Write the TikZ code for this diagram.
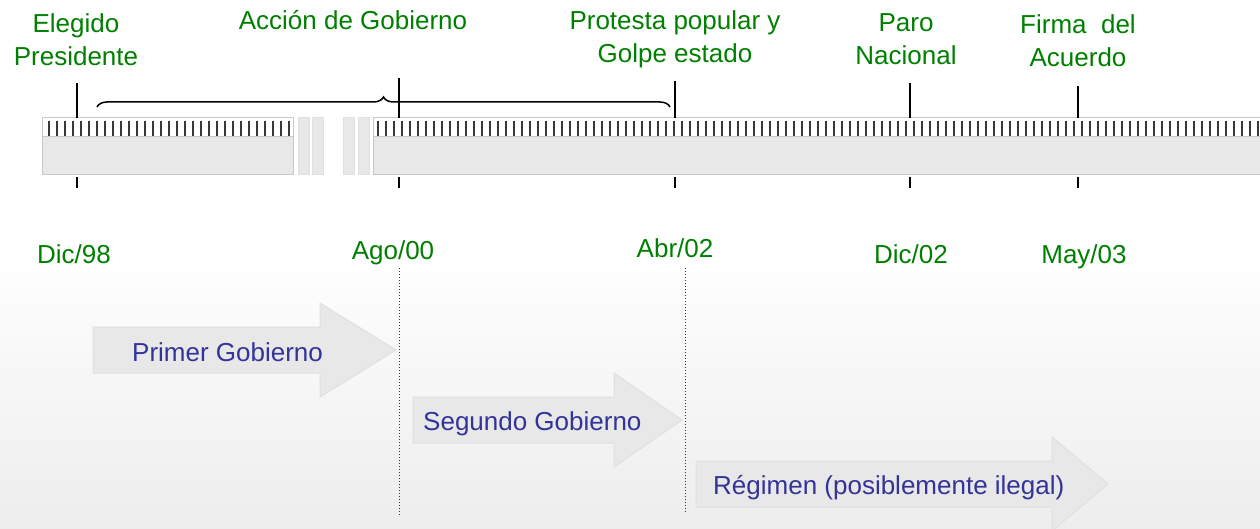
\documentclass[tikz,border=0pt]{standalone}
\usepackage{fontspec}
\setmainfont{Liberation Sans}
\usetikzlibrary{decorations.pathreplacing}

\definecolor{labelgreen}{RGB}{0,128,0}
\definecolor{periodblue}{RGB}{51,51,153}
\definecolor{barfill}{RGB}{232,232,232}
\definecolor{barline}{RGB}{200,200,200}

\begin{document}
\begin{tikzpicture}[
            x=1pt, y=-1pt,
            event/.style = {
                text=labelgreen,
                font=\fontsize{26}{33}\selectfont,
                align=center,
                anchor=base,
                inner sep=0pt
            },
            date/.style = {
                text=labelgreen,
                font=\fontsize{26}{31}\selectfont,
                anchor=base,
                inner sep=0pt
            },
            period/.style = {
                text=periodblue,
                font=\fontsize{26}{31}\selectfont,
                anchor=base west,
                inner sep=0pt
            },
            bar/.style = {fill=barfill, draw=barline, line width=1pt},
            gapbar/.style = {fill=barfill, draw=black!12, line width=1pt},
            rulertick/.style = {draw=black!78, line width=2.6pt},
            marker/.style = {draw=black, line width=1.3pt},
            periodarrow/.style = {fill=barfill, draw=black!12, line width=1pt},
            guide/.style = {draw=black!80, dotted, line width=1pt}
        ]
            \useasboundingbox (0,0) rectangle (1260,529);
            \shade[top color=white, bottom color=black!7] (0,250) rectangle (1260,529);

            % ruler
            \draw[barline, line width=1pt, fill=white] (42,118) rectangle (293,137);
            \draw[bar] (42,137) rectangle (293,175);
            \foreach \x in {298,312,343,358} {
                \draw[gapbar] (\x,118) rectangle ({\x+11},175);
            }
            \draw[barline, line width=1pt, fill=white] (373,118) rectangle (1264,137);
            \draw[bar] (373,137) rectangle (1264,175);
            \foreach \x in {49,57,...,289} {
                \draw[rulertick] (\x,121) -- (\x,136);
            }
            \foreach \x in {378,386,...,1258} {
                \draw[rulertick] (\x,121) -- (\x,136);
            }

            % markers
            \foreach \x/\top in {77/83, 399/78, 675/81, 910/83, 1078/86} {
                \draw[marker] (\x,\top) -- (\x,118);
                \draw[marker] (\x,177) -- (\x,188);
            }

            % brace
            \coordinate (bl) at (97,107);
            \coordinate (br) at (670,107);
            \draw[line width=1.5pt, decorate, decoration={brace, amplitude=10pt}] (bl) -- (br);

            % events (base = last line)
            \node[event] (elegido) at (76,66) {Elegido\\Presidente};
            \node[event] (accion) at (353,30) {Acción de Gobierno};
            \node[event] (protesta) at (675,63) {Protesta popular y\\Golpe estado};
            \node[event] (paro) at (906,65) {Paro\\Nacional};
            \node[event] (firma) at (1078,67) {Firma\ \ del\\Acuerdo};

            % dates
            \node[date] (dic98) at (74,263) {Dic/98};
            \node[date] (ago00) at (393,260) {Ago/00};
            \node[date] (abr02) at (675,258) {Abr/02};
            \node[date] (dic02) at (911,264) {Dic/02};
            \node[date] (may03) at (1084,264) {May/03};

            % guides
            \coordinate (g1top) at (399,268);
            \coordinate (g1bot) at (399,515);
            \coordinate (g2top) at (685,268);
            \coordinate (g2bot) at (685,512);
            \draw[guide] (g1top) -- (g1bot);
            \draw[guide] (g2top) -- (g2bot);

            % period arrows
            \foreach \l/\b/\t/\c in {93/320/396/350, 413/614/682/420, 696/1052/1108/484} {
                \draw[periodarrow] (\l,\c-23) -- (\b,\c-23) -- (\b,\c-47) -- (\t,\c)
                    -- (\b,\c+47) -- (\b,\c+23) -- (\l,\c+23) -- cycle;
            }
            \node[period] (primer) at (132,361) {Primer Gobierno};
            \node[period] (segundo) at (423,430) {Segundo Gobierno};
            \node[period] (regimen) at (713,494) {Régimen (posiblemente ilegal)};

        \end{tikzpicture}
\end{document}
